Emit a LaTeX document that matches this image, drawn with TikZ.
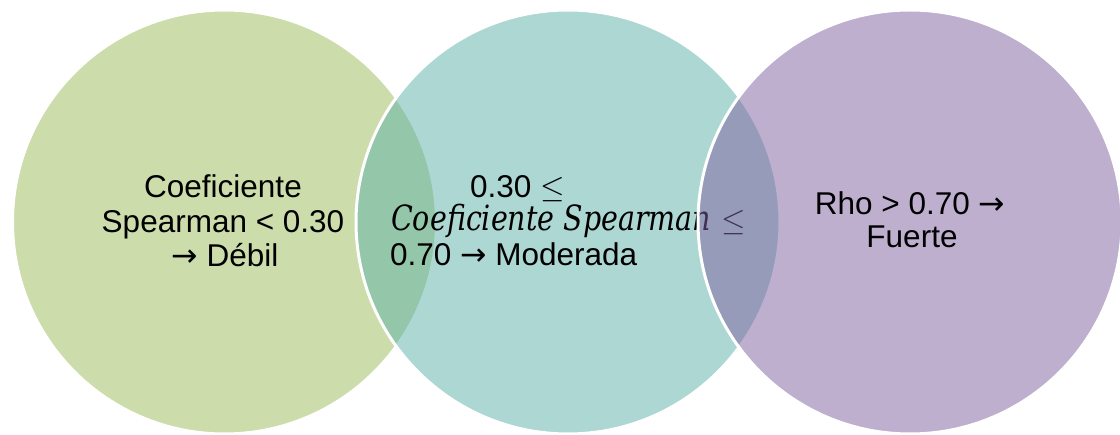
\RequirePackage{fix-cm}
\documentclass[tikz,border=0pt]{standalone}
\usepackage{fontspec}
\setmainfont{Liberation Sans}
\newfontfamily\arrfont{DejaVu Sans}
\newfontfamily\mathitfont{DejaVu Serif}[ItalicFont={DejaVu Serif Italic}]
\newcommand{\rarr}{{\arrfont →}}
\definecolor{vgreen}{RGB}{155,187,89}
\definecolor{vteal}{RGB}{93,177,169}
\definecolor{vpurple}{RGB}{127,97,161}
\tikzset{
  venn/.style={draw=white, line width=3pt, fill opacity=0.5, draw opacity=1},
  txt/.style={inner sep=0pt, font=\fontsize{31.5}{34.5}\selectfont, text=black}
}
\begin{document}
\begin{tikzpicture}[x=1pt,y=-1pt]
\useasboundingbox[fill=white] (0,0) rectangle (1120,435);
% green circle
\fill[venn, fill=vgreen] (224.5,222) circle[radius=212];
\node[txt, anchor=base] (g1) at (223,198) {Coeficiente};
\node[txt, anchor=base] (g2) at (223,233) {Spearman < 0.30};
\node[txt, anchor=base] (g3) at (225,267) {\rarr{} Débil};
% teal circle
\filldraw[venn, fill=vteal] (568,222) circle[radius=212];
\node[txt, anchor=base west] (m1) at (470,198) {0.30 $\leq$};
\node[txt, anchor=base west] (m2) at (391,231) {\scalebox{1}[1.22]{\resizebox{320pt}{!}{\mathitfont\itshape Coeficiente Spearman}}\,\,$\leq$};
\node[txt, anchor=base west] (m3) at (390,266) {0.70 \rarr{} Moderada};
% purple circle
\filldraw[venn, fill=vpurple] (910,222) circle[radius=212];
\node[txt, anchor=base] (r1) at (910,215) {Rho > 0.70 \rarr};
\node[txt, anchor=base] (r2) at (912,248) {Fuerte};
\end{tikzpicture}
\end{document}
